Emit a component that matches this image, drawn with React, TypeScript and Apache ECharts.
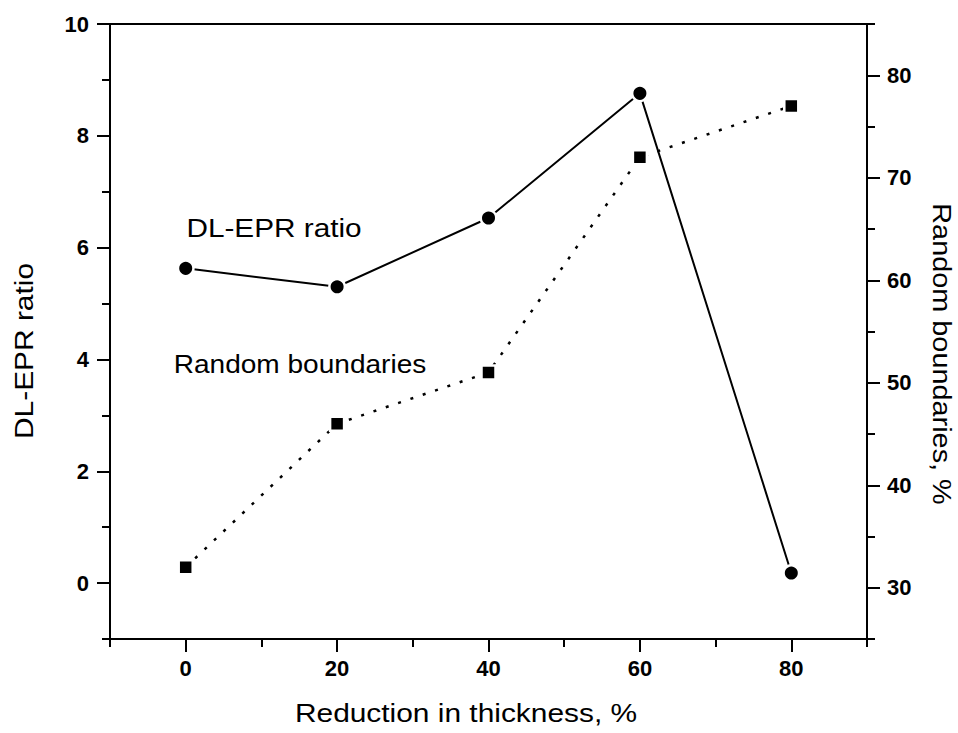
import React, { useEffect, useRef } from "react";
import * as echarts from "echarts";

// ---- data ----
const thickness = [0, 20, 40, 60, 80];
const dlEprRatio = [5.63, 5.3, 6.53, 8.76, 0.18];
const randomBoundaries = [32, 46, 51, 72, 77];

// ---- ticks / labels ----
const xMajorTicks = [0, 20, 40, 60, 80];
const xMinorTicks = [-10, 10, 30, 50, 70, 90];
const leftMajorTicks = [0, 2, 4, 6, 8, 10];
const leftMinorTicks = [-1, 1, 3, 5, 7, 9];
const rightMajorTicks = [30, 40, 50, 60, 70, 80];
const rightMinorTicks = [25, 35, 45, 55, 65, 75, 85];

// ---- texts ----
const xTitle = "Reduction in thickness, %";
const leftTitle = "DL-EPR ratio";
const rightTitle = "Random boundaries, %";
const dlLabel = "DL-EPR ratio";
const rbLabel = "Random boundaries";

const FONT = "'Liberation Sans', Arial, Helvetica, sans-serif";
const BLACK = "#000";

function makeAxis(
  position: string,
  min: number,
  max: number,
  interval: number,
  ticks: number[],
  labels: number[] | null,
  tickLen: number,
  margin: number
) {
  return {
    type: "value",
    gridIndex: 0,
    position,
    min,
    max,
    interval,
    axisLine: { show: true, onZero: false, lineStyle: { color: BLACK, width: 2 } },
    axisTick: {
      show: true,
      inside: false,
      length: tickLen,
      customValues: ticks,
      lineStyle: { color: BLACK, width: 2 },
    },
    axisLabel: labels
      ? {
          show: true,
          customValues: labels,
          margin,
          color: BLACK,
          fontSize: 22,
          fontWeight: "bold",
          fontFamily: FONT,
        }
      : { show: false },
    splitLine: { show: false },
    minorTick: { show: false },
  };
}

function txt(
  text: string,
  x: number,
  y: number,
  fontSize: number,
  scaleX: number,
  rotation = 0
) {
  return {
    type: "text",
    x,
    y,
    rotation,
    scaleX,
    scaleY: 1,
    z: 100,
    style: {
      text,
      fontSize,
      fontFamily: FONT,
      fill: BLACK,
      align: "center",
      verticalAlign: "middle",
      textAlign: "center",
      textVerticalAlign: "middle",
    },
  };
}

export default function App() {
  const ref = useRef<HTMLDivElement>(null);

  useEffect(() => {
    if (!ref.current) return;
    const chart = echarts.init(ref.current, undefined, { renderer: "svg" });

    const dlData = thickness.map((x, i) => [x, dlEprRatio[i]]);
    const rbData = thickness.map((x, i) => [x, randomBoundaries[i]]);

    chart.setOption({
      animation: false,
      backgroundColor: "#fff",
      grid: {
        left: 110,
        right: 91,
        top: 24,
        bottom: 94,
        show: true,
        borderColor: BLACK,
        borderWidth: 2,
        backgroundColor: "transparent",
        containLabel: false,
      },
      xAxis: [
        makeAxis("bottom", -10, 90, 10, xMajorTicks, xMajorTicks, 13, 18),
        makeAxis("bottom", -10, 90, 10, xMinorTicks, null, 8, 0),
      ],
      yAxis: [
        makeAxis("left", -1, 10, 1, leftMajorTicks, leftMajorTicks, 13, 21),
        makeAxis("left", -1, 10, 1, leftMinorTicks, null, 8, 0),
        makeAxis("right", 25, 85, 5, rightMajorTicks, rightMajorTicks, 13, 20),
        makeAxis("right", 25, 85, 5, rightMinorTicks, null, 8, 0),
      ],
      series: [
        {
          name: "Random boundaries",
          type: "line",
          xAxisIndex: 0,
          yAxisIndex: 2,
          data: rbData,
          symbol: "rect",
          symbolSize: 14,
          showSymbol: true,
          itemStyle: { color: BLACK, borderColor: "#fff", borderWidth: 2.5 },
          lineStyle: { color: BLACK, width: 2.5, type: [3, 10], cap: "butt" },
          z: 3,
        },
        {
          name: "DL-EPR ratio",
          type: "line",
          xAxisIndex: 0,
          yAxisIndex: 0,
          data: dlData,
          symbol: "circle",
          symbolSize: 15.5,
          showSymbol: true,
          itemStyle: { color: BLACK, borderColor: "#fff", borderWidth: 2.5 },
          lineStyle: { color: BLACK, width: 2 },
          z: 4,
        },
      ],
      graphic: [
        txt(xTitle, 466, 713, 26, 1.15),
        txt(leftTitle, 24, 351, 26, 1.15, Math.PI / 2),
        txt(rightTitle, 942, 354, 26, 1.11, -Math.PI / 2),
        txt(dlLabel, 274, 228, 25, 1.19),
        txt(rbLabel, 300, 364, 25.5, 1.1),
      ],
    });

    return () => {
      chart.dispose();
    };
  }, []);

  return (
    <div
      ref={ref}
      style={{ position: "fixed", left: 0, top: 0, width: 958, height: 733 }}
    />
  );
}
